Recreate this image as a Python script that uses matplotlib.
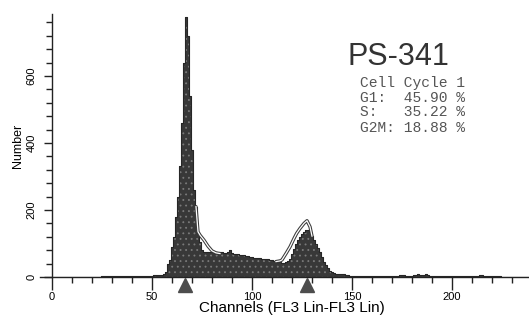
import numpy as np
import matplotlib
matplotlib.use("Agg")
import matplotlib.pyplot as plt
import matplotlib.transforms as mtransforms
from matplotlib.ticker import MultipleLocator

plt.rcParams['font.family'] = ['Liberation Sans', 'DejaVu Sans']
plt.rcParams['hatch.linewidth'] = 0.6

# DNA histogram, one count per channel (0..238)
channels = np.arange(0, 239)
counts = [
    0, 0, 0, 0, 0, 0, 0, 0, 0, 0,
    0, 0, 0, 0, 0, 0, 0, 0, 0, 0,
    0, 0, 0, 0, 0, 2, 3, 3, 3, 3,
    3, 3, 3, 3, 3, 3, 3, 3, 3, 3,
    3, 3, 3, 3, 3, 3, 3, 3, 3, 4,
    4, 5, 5, 6, 6, 6, 8, 15, 40, 50,
    90, 120, 180, 240, 330, 460, 640, 775, 720, 540,
    380, 260, 210, 130, 105, 80, 76, 75, 76, 74,
    75, 76, 74, 73, 75, 74, 72, 73, 75, 82,
    72, 70, 69, 68, 67, 66, 65, 64, 62, 60,
    60, 58, 57, 56, 56, 55, 54, 55, 53, 52,
    50, 49, 47, 46, 44, 43, 42, 44, 48, 55,
    70, 85, 98, 110, 120, 128, 135, 140, 139, 133,
    122, 110, 98, 86, 74, 60, 46, 35, 26, 19,
    15, 12, 10, 9, 8, 8, 9, 7, 5, 4,
    3, 3, 2, 2, 2, 2, 2, 2, 2, 2,
    2, 2, 2, 2, 2, 2, 2, 2, 2, 2,
    2, 2, 2, 3, 5, 6, 5, 3, 2, 2,
    3, 5, 7, 8, 7, 6, 6, 8, 7, 4,
    2, 2, 2, 2, 2, 2, 2, 2, 2, 2,
    2, 2, 2, 2, 2, 2, 2, 2, 2, 2,
    2, 2, 2, 3, 5, 6, 4, 2, 2, 2,
    2, 2, 2, 2, 2, 1, 1, 1, 1, 1,
    1, 1, 1, 1, 1, 1, 1, 1, 1,
]

# model fit outlines
g1_fit_ch = [72, 73, 74, 76, 78, 80, 82, 84]
g1_fit = [210, 135, 125, 110, 92, 78, 72, 70]
g2_fit_ch = [112, 114, 115, 117, 119, 121, 122.3, 124, 126, 127.5, 129, 130]
g2_fit = [46, 48, 51, 70, 90, 115, 130, 145, 160, 168, 150, 122]

# peak markers (channels)
peak_marks = [66.5, 127.3]

x_major = [0, 50, 100, 150, 200]
y_major = [0, 200, 400, 600]

sample_name = "PS-341"
stats_lines = ["Cell Cycle 1", "G1:  45.90 %", "S:   35.22 %", "G2M: 18.88 %"]

fig = plt.figure(figsize=(5.29, 3.23), dpi=100)
ax = fig.add_axes([40 / 529, 46 / 323, 489 / 529, 263 / 323])

ax.fill_between(channels, counts, step='mid', facecolor='#383838',
                edgecolor='#7a7a7a', hatch='...', linewidth=0)
ax.step(channels, counts, where='mid', color='#262626', lw=0.8)

for xs, ys in [(g1_fit_ch, g1_fit), (g2_fit_ch, g2_fit)]:
    ax.plot(xs, ys, color='#3a3a3a', lw=2.4, solid_capstyle='round')
    ax.plot(xs, ys, color='white', lw=0.9)

trans = mtransforms.blended_transform_factory(ax.transData, ax.transAxes)
ax.plot(peak_marks, [-0.029] * len(peak_marks), marker='^', ls='none', ms=10,
        color='#4d4d4d', transform=trans, clip_on=False)

ax.set_xlim(-6, 238.5)
ax.set_ylim(0, 785)

for s in ['top', 'right']:
    ax.spines[s].set_visible(False)
ax.spines['left'].set_position(('data', 0))
for s in ['left', 'bottom']:
    ax.spines[s].set_color('#222222')
    ax.spines[s].set_linewidth(1.0)

ax.set_xticks(x_major)
ax.xaxis.set_minor_locator(MultipleLocator(10))
ax.set_yticks(y_major)
ax.yaxis.set_minor_locator(MultipleLocator(40))
ax.tick_params(axis='x', which='major', direction='out', length=9, width=1,
               labelsize=8, pad=2, color='#222222')
ax.tick_params(axis='x', which='minor', direction='out', length=4.5, width=1,
               color='#222222')
ax.tick_params(axis='y', which='major', direction='out', length=6, width=1,
               labelsize=8, pad=5, labelrotation=90, color='#222222')
ax.tick_params(axis='y', which='minor', direction='out', length=4, width=1,
               color='#222222')
for lab in ax.get_yticklabels():
    lab.set_va('center')

ax.set_xlabel("Channels (FL3 Lin-FL3 Lin)", fontsize=11, va='center')
ax.xaxis.set_label_coords((292 - 40) / 489, (277 - 308) / 263)
ax.set_ylabel("Number", fontsize=9, va='center')
ax.yaxis.set_label_coords((18 - 40) / 489, (277 - 146) / 263)

fig.text(348 / 529, 1 - 65 / 323, sample_name, fontsize=22, va='baseline',
         color='#333333')
for i, line in enumerate(stats_lines):
    fig.text(360 / 529, 1 - (86.5 + 15 * i) / 323, line, fontsize=10.5,
             family='Liberation Mono', va='baseline', color='#555555')

fig.savefig("out.png", dpi=100)
